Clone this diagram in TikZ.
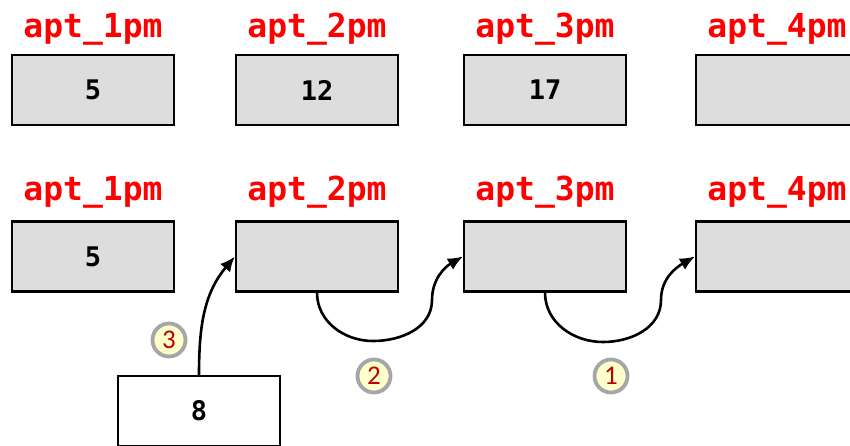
\documentclass[tikz,border=0pt]{standalone}
\usepackage{fontspec}
\usetikzlibrary{arrows.meta}
\newfontfamily\labelmono{DejaVu Sans Mono}
\newfontfamily\stepfont{Carlito}
\definecolor{slotgray}{HTML}{DDDDDD}
\definecolor{ringgray}{HTML}{A6A6A6}
\definecolor{ringfill}{HTML}{FFFFCC}
\definecolor{stepred}{HTML}{C00000}
\tikzset{
  slot/.style={draw=black, line width=2.2pt, fill=slotgray, minimum width=162pt,
    minimum height=70pt, inner sep=0pt, font=\labelmono\bfseries\fontsize{27}{27}\selectfont},
  newslot/.style={slot, fill=white},
  slotname/.style={text=red, anchor=base, inner sep=0pt,
    font=\labelmono\bfseries\fontsize{33}{33}\selectfont},
  stepmark/.style={circle, draw=ringgray, line width=3.8pt, fill=ringfill,
    minimum size=33pt, inner sep=0pt, text=stepred,
    font=\stepfont\fontsize{27}{27}\selectfont},
  link/.style={draw=black, line width=2.6pt, -{Latex[length=15pt,width=13pt]}}
}
\begin{document}
\begin{tikzpicture}[x=1pt,y=-1pt]
\useasboundingbox (0,0) rectangle (850,445);
\clip (0,0) rectangle (850,445);

% first row: the original schedule
\node[slotname] (ta1) at (93,37) {apt\_1pm};
\node[slotname] (ta2) at (317,37) {apt\_2pm};
\node[slotname] (ta3) at (545,37) {apt\_3pm};
\node[slotname] (ta4) at (777,37) {apt\_4pm};
\node[slot] (t1) at (93,90) {5};
\node[slot] (t2) at (317,90) {12};
\node[slot] (t3) at (545,90) {17};
\node[slot] (t4) at (777,90) {};

% second row: shifting the entries to make room
\node[slotname] (ba1) at (93,200) {apt\_1pm};
\node[slotname] (ba2) at (317,200) {apt\_2pm};
\node[slotname] (ba3) at (545,200) {apt\_3pm};
\node[slotname] (ba4) at (777,200) {apt\_4pm};
\node[slot] (b1) at (93,256.5) {5};
\node[slot] (b2) at (317,256.5) {};
\node[slot] (b3) at (545,256.5) {};
\node[slot] (b4) at (777,256.5) {};

% the value being inserted
\node[newslot] (nv) at (199,411) {8};

% waypoints of the shifting arrows
\coordinate (low2) at (373,341);
\coordinate (rise2) at (432,300);
\coordinate (low1) at (603,342);
\coordinate (rise1) at (661,300);

\draw[link] (b3.south) to[out=-90,in=180] (low1) to[out=0,in=-90] (rise1)
  to[out=90,in=-150] (b4.west);
\draw[link] (b2.south) to[out=-90,in=180] (low2) to[out=0,in=-90] (rise2)
  to[out=90,in=-150] (b3.west);
\draw[link] (nv.north) to[out=90,in=-130] (b2.west);

% step numbers
\node[stepmark] (s1) at (611,376) {1};
\node[stepmark] (s2) at (374,376) {2};
\node[stepmark] (s3) at (169,340) {3};
\end{tikzpicture}
\end{document}
